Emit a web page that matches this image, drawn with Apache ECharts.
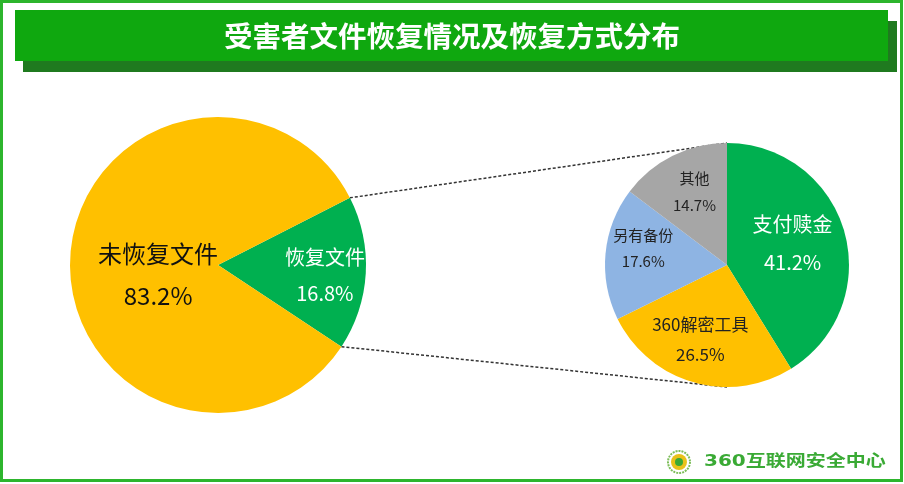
<!DOCTYPE html>
<html>
<head>
<meta charset="utf-8">
<script src="https://cdn.jsdelivr.net/npm/echarts@6/dist/echarts.min.js"></script>
<style>
html,body{margin:0;padding:0;background:#fff;}
#chart{width:904px;height:484px;}
</style>
</head>
<body>
<div id="chart"></div>
<script>
// ---- data ----
const titleText = '受害者文件恢复情况及恢复方式分布';
const leftNames = ['恢复文件', '未恢复文件'];
const leftValues = [16.8, 83.2];
const rightNames = ['支付赎金', '360解密工具', '另有备份', '其他'];
const rightValues = [41.2, 26.5, 17.6, 14.7];
const brandText = '360互联网安全中心';

// ---- layout / style ----
const FONT = '"Noto Sans CJK SC", "Noto Sans", sans-serif';
const GREEN = '#00B050', YELLOW = '#FFC000', BLUE = '#8EB4E3', GRAY = '#A6A6A6';
const leftCenter = [218, 265], leftR = 148, leftStart = 27;
const rightCenter = [727, 265], rightR = 122, rightStart = 90;

const leftStyle = [
  {color: GREEN, label: {color: '#fff', fontSize: 20, lineHeight: 36}, d: [30, 6]},
  {color: YELLOW, label: {color: '#111', fontSize: 24, lineHeight: 42}, d: [17, 14]}
];
const rightStyle = [
  {color: GREEN, label: {color: '#fff', fontSize: 20, lineHeight: 38}, d: [4, -4]},
  {color: YELLOW, label: {color: '#222', fontSize: 17, lineHeight: 30}, d: [-9, 13]},
  {color: BLUE, label: {color: '#222', fontSize: 15, lineHeight: 26}, d: [-20, -11]},
  {color: GRAY, label: {color: '#222', fontSize: 15, lineHeight: 27}, d: [-4, -16]}
];

function pieData(names, values, styles) {
  return names.map((n, i) => ({
    name: n, value: values[i],
    itemStyle: {color: styles[i].color},
    label: Object.assign({fontFamily: FONT}, styles[i].label)
  }));
}

// connector endpoints derived from pie geometry
const total = leftValues.reduce((a, b) => a + b, 0);
const a1 = leftStart * Math.PI / 180;
const a2 = (leftStart - 360 * leftValues[0] / total) * Math.PI / 180;
const pUp = [leftCenter[0] + leftR * Math.cos(a1), leftCenter[1] - leftR * Math.sin(a1)];
const pDn = [leftCenter[0] + leftR * Math.cos(a2), leftCenter[1] - leftR * Math.sin(a2)];
const qUp = [rightCenter[0], rightCenter[1] - rightR];
const qDn = [rightCenter[0], rightCenter[1] + rightR];

const chart = echarts.init(document.getElementById('chart'), null, {renderer: 'canvas'});
chart.setOption({
  animation: false,
  backgroundColor: '#fff',
  graphic: [
    {type: 'rect', shape: {x: 1.5, y: 1.5, width: 900, height: 479}, style: {fill: 'none', stroke: '#2DB52D', lineWidth: 3}, z: 0},
    {type: 'rect', shape: {x: 23, y: 21, width: 874, height: 51}, style: {fill: '#1F7A1F'}, z: 1},
    {type: 'rect', shape: {x: 15, y: 10, width: 873, height: 51}, style: {fill: '#0FA80F'}, z: 2},
    {type: 'text', x: 452, y: 36, z: 3, style: {text: titleText, fill: '#fff', font: 'bold 28.5px ' + FONT, textAlign: 'center', textVerticalAlign: 'middle'}},
    {type: 'line', shape: {x1: pUp[0], y1: pUp[1], x2: qUp[0], y2: qUp[1]}, style: {stroke: '#333', lineWidth: 1.5, lineDash: [3, 2]}, z: 1},
    {type: 'line', shape: {x1: pDn[0], y1: pDn[1], x2: qDn[0], y2: qDn[1]}, style: {stroke: '#333', lineWidth: 1.5, lineDash: [3, 2]}, z: 1},
    // logo
    {type: 'circle', shape: {cx: 679, cy: 462, r: 11}, style: {fill: 'none', stroke: '#7DBE5A', lineWidth: 2, lineDash: [2, 1]}, z: 3},
    {type: 'circle', shape: {cx: 679, cy: 462, r: 8}, style: {fill: '#E8C21A'}, z: 3},
    {type: 'circle', shape: {cx: 679, cy: 462, r: 4}, style: {fill: '#3AA935'}, z: 4},
    {type: 'text', x: 704, y: 462, scaleX: 1.25, z: 3, style: {text: brandText, fill: '#3AAA35', font: 'bold 16px "DejaVu Sans", "Noto Sans CJK SC", sans-serif', textAlign: 'left', textVerticalAlign: 'middle'}}
  ],
  series: [
    {
      type: 'pie', center: leftCenter, radius: [0, leftR], startAngle: leftStart, clockwise: true,
      silent: true, avoidLabelOverlap: false, z: 5,
      label: {show: true, position: 'inside', formatter: p => p.name + '\n' + p.value.toFixed(1) + '%'},
      labelLine: {show: false},
      labelLayout: p => ({dx: leftStyle[p.dataIndex].d[0], dy: leftStyle[p.dataIndex].d[1]}),
      data: pieData(leftNames, leftValues, leftStyle)
    },
    {
      type: 'pie', center: rightCenter, radius: [0, rightR], startAngle: rightStart, clockwise: true,
      silent: true, avoidLabelOverlap: false, z: 5,
      label: {show: true, position: 'inside', formatter: p => p.name + '\n' + p.value.toFixed(1) + '%'},
      labelLine: {show: false},
      labelLayout: p => ({dx: rightStyle[p.dataIndex].d[0], dy: rightStyle[p.dataIndex].d[1]}),
      data: pieData(rightNames, rightValues, rightStyle)
    }
  ]
});
</script>
</body>
</html>
